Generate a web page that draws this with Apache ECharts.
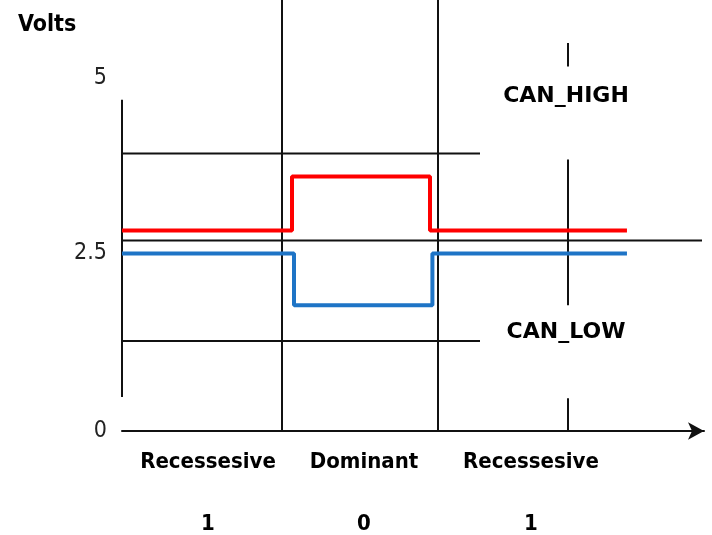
<!DOCTYPE html>
<html>
<head>
<meta charset="utf-8">
<script src="https://cdn.jsdelivr.net/npm/echarts@6/dist/echarts.min.js"></script>
<style>
html,body{margin:0;padding:0;background:#fff;}
#chart{width:712px;height:535px;}
</style>
</head>
<body>
<div id="chart"></div>
<script>
// ---- data (x in bit-time units, y in volts as drawn) ----
const yTickValues = [0, 2.34, 4.63];
const yTickLabels = ['0', '2.5', '5'];
const stateCenters = [0.5375, 1.5125, 2.556];
const stateNames = ['Recessesive', 'Dominant', 'Recessesive'];
const bitValues = ['1', '0', '1'];
const timeLabelPos = 3.65;
const timeLabel = 't';

const highTimes = [0, 1.0625, 1.925, 3.156];
const highLevels = [2.63, 3.34, 2.63, 2.63];
const lowTimes = [0, 1.075, 1.94, 3.156];
const lowLevels = [2.33, 1.65, 2.33, 2.33];

// horizontal reference lines: level, start, end
const refLevels = [3.64, 2.5, 1.18];
const refStarts = [0, 0, 0];
const refEnds = [2.2375, 3.625, 2.2375];

// vertical reference lines: time, bottom, top
const vTimes = [0, 1.0, 1.975, 2.7875, 2.7875, 2.7875];
const vBottoms = [0.445, 0, 0, 1.65, 4.78, 0];
const vTops = [4.345, 5.654, 5.654, 3.56, 5.09, 0.43];

const signalNames = ['CAN_HIGH', 'CAN_LOW'];
const signalLabelX = [2.775, 2.775];
const signalLabelY = [4.385, 1.296];

const xMax = 3.6375;
const yMax = 5.654;

const FONT = '"DejaVu Sans Condensed", "DejaVu Sans", sans-serif';
const FONT_WIDE = '"DejaVu Sans", sans-serif';
const LINE = '#111';
const series = [];

refLevels.forEach((lv, i) => {
  series.push({
    type: 'line', silent: true, symbol: 'none', z: 2,
    lineStyle: { color: LINE, width: 2 },
    data: [[refStarts[i], lv], [refEnds[i], lv]]
  });
});
vTimes.forEach((t, i) => {
  series.push({
    type: 'line', silent: true, symbol: 'none', z: 2,
    lineStyle: { color: LINE, width: 2 },
    data: [[t, vBottoms[i]], [t, vTops[i]]]
  });
});
series.push({
  name: 'CAN_HIGH', type: 'line', step: 'end', symbol: 'none', z: 4,
  lineStyle: { color: '#ff0000', width: 4 },
  data: highTimes.map((t, i) => [t, highLevels[i]])
});
series.push({
  name: 'CAN_LOW', type: 'line', step: 'end', symbol: 'none', z: 4,
  lineStyle: { color: '#1e74c6', width: 4 },
  data: lowTimes.map((t, i) => [t, lowLevels[i]])
});
series.push({
  type: 'scatter', silent: true, z: 10, symbolSize: 0,
  itemStyle: { color: '#000', opacity: 1 },
  label: {
    show: true, position: 'inside',
    formatter: p => p.name,
    fontFamily: FONT_WIDE, fontWeight: 'bold', fontSize: 22, color: '#000',
    textBorderWidth: 0
  },
  data: signalNames.map((n, i) => ({ name: n, value: [signalLabelX[i], signalLabelY[i]] }))
});

const xLabelValues = stateCenters.concat([timeLabelPos]);

const option = {
  animation: false,
  backgroundColor: '#fff',
  title: {
    text: 'Volts', left: 13, top: 9,
    textStyle: { fontFamily: FONT, fontWeight: 'bold', fontSize: 23, color: '#000' }
  },
  grid: { left: 122, right: 8, top: 0, bottom: 103, containLabel: false },
  xAxis: {
    type: 'value', min: 0, max: xMax,
    splitLine: { show: false },
    axisTick: { show: false },
    axisLine: {
      show: true, symbol: ['none', 'arrow'], symbolSize: [13, 16],
      lineStyle: { color: LINE, width: 2 }
    },
    axisLabel: {
      customValues: xLabelValues,
      margin: 16,
      formatter: function (v) {
        let best = 0;
        xLabelValues.forEach((x, i) => { if (Math.abs(x - v) < Math.abs(xLabelValues[best] - v)) best = i; });
        if (best >= stateNames.length) return '{s|' + timeLabel + '}';
        return '{s|' + stateNames[best] + '}\n{g|}\n{b|' + bitValues[best] + '}';
      },
      rich: {
        s: { fontFamily: FONT, fontWeight: 'bold', fontSize: 22, color: '#000', lineHeight: 30 },
        g: { lineHeight: 32 },
        b: { fontFamily: FONT, fontWeight: 'bold', fontSize: 22, color: '#000', lineHeight: 30 }
      }
    }
  },
  yAxis: {
    type: 'value', min: 0, max: yMax,
    splitLine: { show: false },
    axisTick: { show: false },
    axisLine: { show: false },
    axisLabel: {
      customValues: yTickValues,
      margin: 15,
      fontFamily: FONT, fontSize: 23, color: '#222',
      formatter: function (v) {
        let best = 0;
        yTickValues.forEach((y, i) => { if (Math.abs(y - v) < Math.abs(yTickValues[best] - v)) best = i; });
        return yTickLabels[best];
      }
    }
  },
  series: series
};

const chart = echarts.init(document.getElementById('chart'), null, { renderer: 'canvas' });
chart.setOption(option);
</script>
</body>
</html>
